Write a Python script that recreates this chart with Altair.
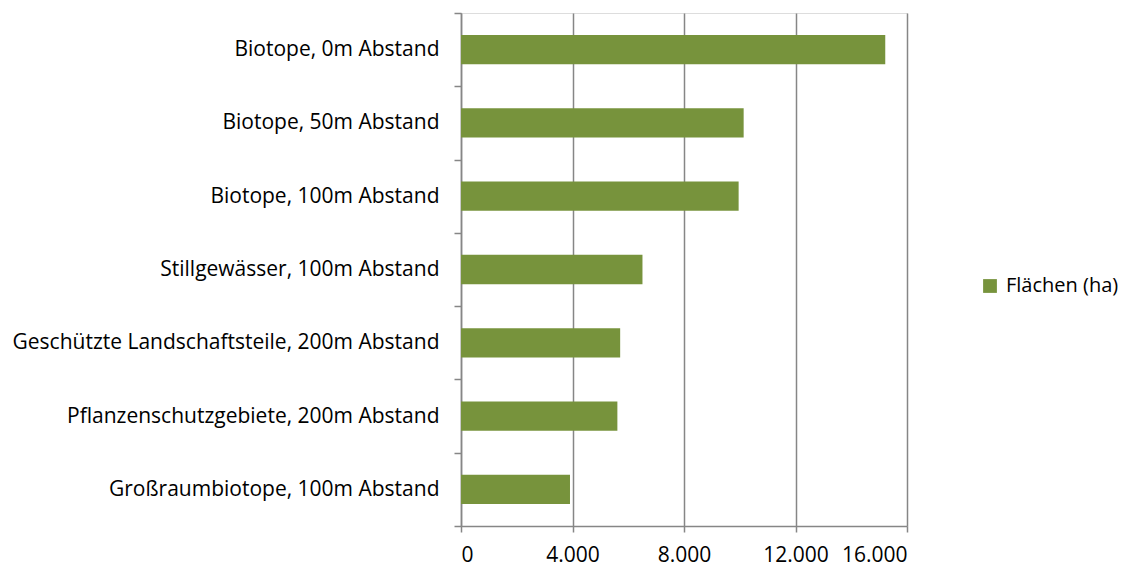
import altair as alt
import pandas as pd

categories = [
    "Biotope, 0m Abstand",
    "Biotope, 50m Abstand",
    "Biotope, 100m Abstand",
    "Stillgewässer, 100m Abstand",
    "Geschützte Landschaftsteile, 200m Abstand",
    "Pflanzenschutzgebiete, 200m Abstand",
    "Großraumbiotope, 100m Abstand",
]
values = [15220, 10140, 9960, 6510, 5710, 5610, 3910]
series = ["Flächen (ha)"] * len(categories)
x_ticks = [0, 4000, 8000, 12000, 16000]

df = pd.DataFrame({"Kategorie": categories, "Wert": values, "Serie": series})

FONT = "Open Sans"
GRID = "#868686"

chart = (
    alt.Chart(df)
    .mark_bar(height={"band": 0.4}, color="#77933C")
    .encode(
        y=alt.Y(
            "Kategorie:N",
            sort=categories,
            title=None,
            scale=alt.Scale(paddingInner=0, paddingOuter=0),
            axis=alt.Axis(
                tickBand="extent",
                domainColor=GRID,
                domainWidth=1.5,
                tickColor=GRID,
                tickWidth=1.5,
                tickSize=7,
                labelPadding=15,
                labelFont=FONT,
                labelFontSize=21,
                labelColor="#000000",
                labelLimit=600,
                grid=False,
            ),
        ),
        x=alt.X(
            "Wert:Q",
            title=None,
            scale=alt.Scale(domain=[0, 16000], nice=False),
            axis=alt.Axis(
                values=x_ticks,
                labelExpr="replace(format(datum.value, ','), ',', '.')",
                grid=True,
                gridColor=GRID,
                gridWidth=1.5,
                domainColor=GRID,
                domainWidth=1.5,
                tickColor=GRID,
                tickWidth=1.5,
                tickSize=6,
                labelPadding=12,
                labelFont=FONT,
                labelFontSize=21,
                labelColor="#000000",
            ),
        ),
        fill=alt.Fill(
            "Serie:N",
            scale=alt.Scale(range=["#77933C"]),
            legend=alt.Legend(
                title=None,
                orient="none",
                legendX=519,
                legendY=263,
                symbolType="square",
                symbolSize=190,
                symbolStrokeWidth=0,
                labelFont=FONT,
                labelFontSize=20,
                labelColor="#000000",
                labelOffset=6,
            ),
        ),
    )
    .properties(
        width=446,
        height=513,
        autosize=alt.AutoSizeParams(type="none"),
        padding={"left": 461, "top": 13, "right": 219, "bottom": 41},
    )
    .configure_view(stroke=None)
    .configure(background="white")
)

chart.save("out.html", embed_options={"renderer": "svg", "actions": False})
